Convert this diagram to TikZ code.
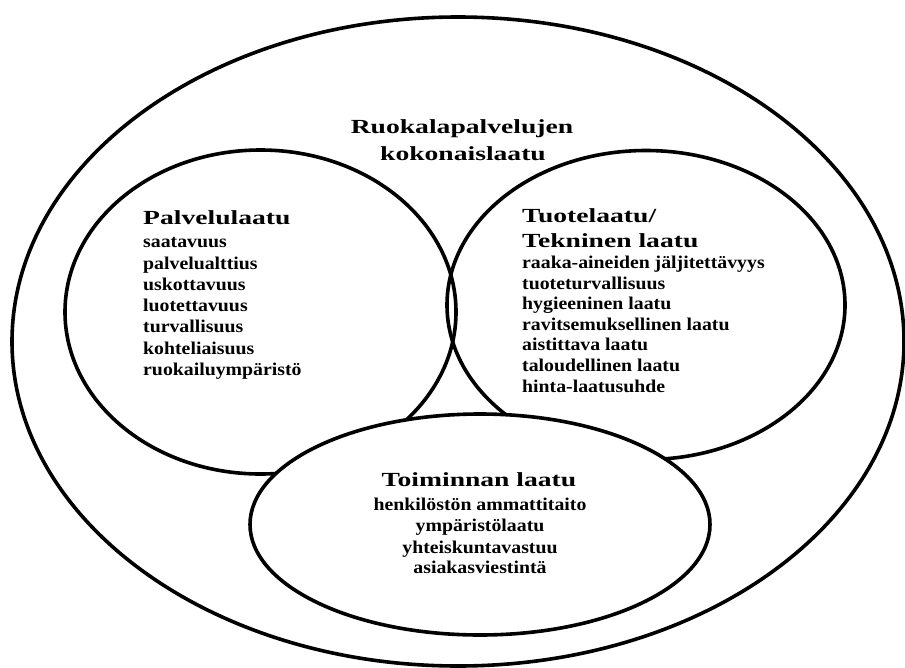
\documentclass[tikz,border=0pt]{standalone}
\usepackage{fontspec}
\setmainfont{Liberation Serif}
\newfontfamily\headfont[FakeStretch=1.38]{Liberation Serif Bold}
\newfontfamily\itemfont[FakeStretch=1.10]{Liberation Serif Bold}
\usetikzlibrary{shapes.geometric}
\begin{document}
\begin{tikzpicture}[x=1pt,y=-1pt,
  ring/.style={draw, ellipse, line width=3.6pt, inner sep=0pt},
  head/.style={font=\headfont\fontsize{20}{24}\selectfont, inner sep=0pt, text height=14pt, text depth=4pt},
  item/.style={font=\itemfont\fontsize{18}{21}\selectfont, inner sep=0pt, text height=12.6pt, text depth=3.6pt}]
\useasboundingbox (0,0) rectangle (905,667);
\clip (0,0) rectangle (905,667);
\fill[white] (0,0) rectangle (905,667);
% shapes
\node[ring, minimum width=892pt, minimum height=649pt] (outer) at (458,341.5) {};
\node[ring, minimum width=391pt, minimum height=324pt] (palvelu) at (260.5,312) {};
\node[ring, minimum width=398pt, minimum height=309pt] (tuote) at (646,305) {};
\node[ring, fill=white, minimum width=460pt, minimum height=221pt] (toiminta) at (480,524.5) {};
% title
\node[head] (t1) at (462,128) {Ruokalapalvelujen};
\node[head] (t2) at (463,155) {kokonaislaatu};
% left
\node[head, anchor=west] (ph) at (143,219) {Palvelulaatu};
\node[item, anchor=west] (p1) at (143,243) {saatavuus};
\node[item, anchor=west] (p2) at (143,265) {palvelualttius};
\node[item, anchor=west] (p3) at (143,286) {uskottavuus};
\node[item, anchor=west] (p4) at (143,307) {luotettavuus};
\node[item, anchor=west] (p5) at (143,328) {turvallisuus};
\node[item, anchor=west] (p6) at (143,350) {kohteliaisuus};
\node[item, anchor=west] (p7) at (143,371) {ruokailuympäristö};
% right
\node[head, anchor=west] (th1) at (522,217) {Tuotelaatu/};
\node[head, anchor=west] (th2) at (522,242) {Tekninen laatu};
\node[item, anchor=west] (r1) at (522,264) {raaka-aineiden jäljitettävyys};
\node[item, anchor=west] (r2) at (522,285) {tuoteturvallisuus};
\node[item, anchor=west] (r3) at (522,305) {hygieeninen laatu};
\node[item, anchor=west] (r4) at (522,326) {ravitsemuksellinen laatu};
\node[item, anchor=west] (r5) at (522,346) {aistittava laatu};
\node[item, anchor=west] (r6) at (522,367) {taloudellinen laatu};
\node[item, anchor=west] (r7) at (522,388) {hinta-laatusuhde};
% bottom
\node[head] (bh) at (479,481) {Toiminnan laatu};
\node[item] (b1) at (480,506) {henkilöstön ammattitaito};
\node[item] (b2) at (480,527) {ympäristölaatu};
\node[item] (b3) at (480,549) {yhteiskuntavastuu};
\node[item] (b4) at (480,569) {asiakasviestintä};
\end{tikzpicture}
\end{document}
